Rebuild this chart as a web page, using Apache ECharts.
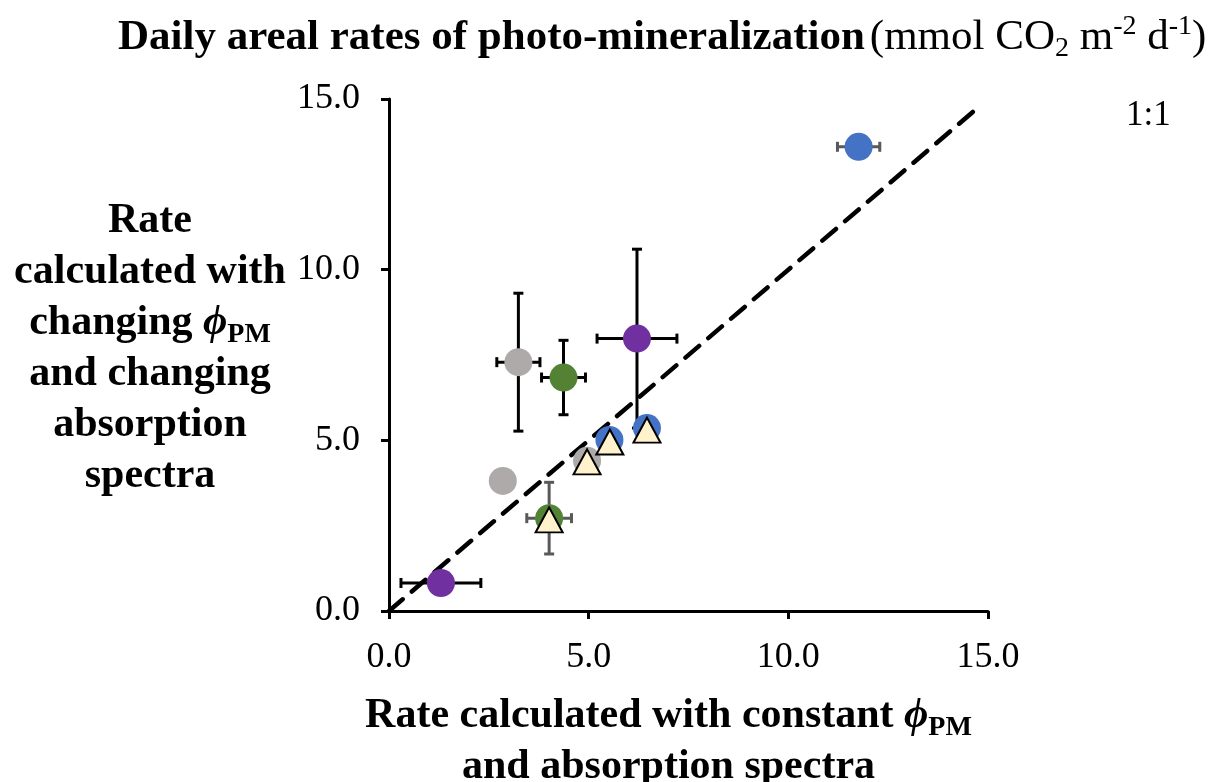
<!DOCTYPE html>
<html>
<head>
<meta charset="utf-8">
<script src="https://cdn.jsdelivr.net/npm/echarts@6/dist/echarts.min.js"></script>
<style>
html,body{margin:0;padding:0;background:#fff;}
#chart{width:1209px;height:782px;}
</style>
</head>
<body>
<div id="chart"></div>
<script>
// ---- data ----
const blueX = [11.76, 5.52, 6.46];
const blueY = [13.60, 5.01, 5.36];
const purpleX = [1.30, 6.21];
const purpleY = [0.82, 7.98];
const grayX = [2.85, 3.24, 4.96];
const grayY = [3.81, 7.29, 4.40];
const greenX = [4.37, 4.01];
const greenY = [6.84, 2.72];
const triX = [4.01, 4.96, 5.53, 6.46];
const triY = [2.67, 4.37, 4.95, 5.30];
// error bars: centre, half-widths, tone (0 = black, 1 = dark gray)
const errX = [1.30, 3.24, 4.37, 6.21, 11.76, 4.01];
const errY = [0.82, 7.29, 6.84, 7.98, 13.60, 2.72];
const errXE = [1.00, 0.54, 0.55, 1.00, 0.53, 0.56];
const errYE = [0.00, 2.02, 1.09, 2.62, 0.00, 1.05];
const errTone = [0, 0, 0, 0, 1, 1];
const oneToOne = [[0, 0], [14.75, 14.75]];

const SERIF = "'Liberation Serif','Times New Roman',serif";

function pairs(xs, ys) { return xs.map((x, i) => [x, ys[i]]); }
const errData = errX.map((x, i) => [x, errY[i], errXE[i], errYE[i], errTone[i]]);

function renderErr(params, api) {
  const x = api.value(0), y = api.value(1), ex = api.value(2), ey = api.value(3);
  const col = api.value(4) ? '#595959' : '#000000';
  const st = { stroke: col, lineWidth: 3 };
  const cap = 5;
  const ch = [];
  if (ex > 0) {
    const l = api.coord([x - ex, y]), r = api.coord([x + ex, y]);
    ch.push({ type: 'line', shape: { x1: l[0], y1: l[1], x2: r[0], y2: r[1] }, style: st });
    ch.push({ type: 'line', shape: { x1: l[0], y1: l[1] - cap, x2: l[0], y2: l[1] + cap }, style: st });
    ch.push({ type: 'line', shape: { x1: r[0], y1: r[1] - cap, x2: r[0], y2: r[1] + cap }, style: st });
  }
  if (ey > 0) {
    const t = api.coord([x, y + ey]), b = api.coord([x, y - ey]);
    ch.push({ type: 'line', shape: { x1: t[0], y1: t[1], x2: b[0], y2: b[1] }, style: st });
    ch.push({ type: 'line', shape: { x1: t[0] - cap, y1: t[1], x2: t[0] + cap, y2: t[1] }, style: st });
    ch.push({ type: 'line', shape: { x1: b[0] - cap, y1: b[1], x2: b[0] + cap, y2: b[1] }, style: st });
  }
  return { type: 'group', children: ch };
}

const chart = echarts.init(document.getElementById('chart'), null, { renderer: 'canvas' });

const axisCommon = {
  type: 'value', min: 0, max: 15, interval: 5,
  splitLine: { show: false },
  axisLine: { show: true, onZero: false, lineStyle: { color: '#000', width: 3 } },
  axisTick: { show: true, inside: false, length: 8, lineStyle: { color: '#000', width: 3 } },
  axisLabel: { fontFamily: SERIF, fontSize: 36, color: '#000', formatter: v => v.toFixed(1) }
};

const nameRich = {
  b: { fontFamily: SERIF, fontWeight: 'bold', fontSize: 42, color: '#000', lineHeight: 51 },
  phi: { fontFamily: SERIF, fontWeight: 'bold', fontStyle: 'italic', fontSize: 42, color: '#000', lineHeight: 51 },
  pm: { fontFamily: SERIF, fontWeight: 'bold', fontSize: 28, color: '#000', verticalAlign: 'bottom', lineHeight: 40 }
};

chart.setOption({
  backgroundColor: '#ffffff',
  animation: false,
  title: {
    text: '{b|Daily areal rates of photo-mineralization} {n|(mmol CO}{sub|2}{n| m}{sup|-2}{n| d}{sup|-1}{n|)}',
    left: 113, top: 8,
    textStyle: {
      fontWeight: 'normal',
      rich: {
        b: { fontFamily: SERIF, fontWeight: 'bold', fontSize: 43, color: '#000', lineHeight: 50 },
        n: { fontFamily: SERIF, fontWeight: 'normal', fontSize: 43, color: '#000', lineHeight: 50 },
        sub: { fontFamily: SERIF, fontWeight: 'normal', fontSize: 28, color: '#000', verticalAlign: 'bottom', lineHeight: 36 },
        sup: { fontFamily: SERIF, fontWeight: 'normal', fontSize: 28, color: '#000', verticalAlign: 'top', lineHeight: 36 }
      }
    }
  },
  grid: { left: 389, right: 221, top: 99, bottom: 171, containLabel: false, outerBoundsMode: 'none' },
  xAxis: Object.assign({}, axisCommon, {
    name: '{b|Rate calculated with constant }{phi|ϕ}{pm|PM}\n{b|and absorption spectra}',
    nameLocation: 'middle', nameGap: 80,
    nameTextStyle: { align: 'center', padding: [0, 40, 0, 0], rich: nameRich },
    axisLabel: Object.assign({}, axisCommon.axisLabel, { margin: 29 })
  }),
  yAxis: Object.assign({}, axisCommon, {
    name: '{b|Rate}\n{b|calculated with}\n{b|changing }{phi|ϕ}{pm|PM}\n{b|and changing}\n{b|absorption}\n{b|spectra}',
    nameLocation: 'middle', nameRotate: 0, nameGap: 239,
    nameTextStyle: { align: 'center', verticalAlign: 'middle', padding: [0, 0, 12, 0], rich: nameRich },
    axisLabel: Object.assign({}, axisCommon.axisLabel, { margin: 29 })
  }),
  graphic: [{
    type: 'text', left: 1126, top: 98,
    style: { text: '1:1', fontFamily: SERIF, fontSize: 35, fill: '#000' }
  }],
  series: [
    {
      type: 'line', data: oneToOne, showSymbol: false, symbol: 'none', z: 1,
      lineStyle: { color: '#000', width: 4.5, type: [18, 12], cap: 'round' }, silent: true
    },
    { type: 'custom', renderItem: renderErr, data: errData, z: 2, encode: { x: 0, y: 1 } },
    { type: 'scatter', data: pairs(blueX, blueY), symbol: 'circle', symbolSize: 28, z: 3, itemStyle: { color: '#4472C4', opacity: 1 } },
    { type: 'scatter', data: pairs(purpleX, purpleY), symbol: 'circle', symbolSize: 28, z: 3, itemStyle: { color: '#7030A0', opacity: 1 } },
    { type: 'scatter', data: pairs(grayX, grayY), symbol: 'circle', symbolSize: 28, z: 3, itemStyle: { color: '#AEAAAA', opacity: 1 } },
    { type: 'scatter', data: pairs(greenX, greenY), symbol: 'circle', symbolSize: 28, z: 3, itemStyle: { color: '#548235', opacity: 1 } },
    { type: 'scatter', data: pairs(triX, triY), symbol: 'triangle', symbolSize: [27, 25], z: 4,
      itemStyle: { color: '#FFF2CC', borderColor: '#000', borderWidth: 2, opacity: 1 } }
  ]
});
</script>
</body>
</html>
